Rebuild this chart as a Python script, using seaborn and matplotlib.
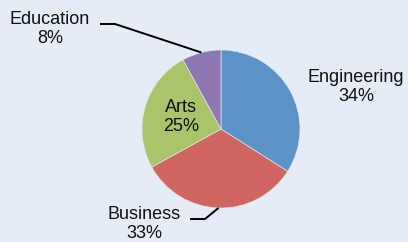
import numpy as np
import matplotlib
matplotlib.use("Agg")
import matplotlib.pyplot as plt
import seaborn as sns

categories = ["Engineering", "Business", "Arts", "Education"]
shares = [34, 33, 25, 8]

COLORS = ["#5B93C9", "#CF665F", "#A9C46B", "#8E78B1"]
BG = "#E4ECF6"

sns.set_style("white")
plt.rcParams["font.family"] = ["Liberation Sans", "DejaVu Sans"]
plt.rcParams["font.size"] = 13

W, H = 408, 242
cx, cy, r = 221, 129, 79

fig = plt.figure(figsize=(W / 100, H / 100), dpi=100, facecolor=BG)
ax = fig.add_axes([(cx - r) / W, (H - cy - r) / H, 2 * r / W, 2 * r / H])
ax.set_facecolor(BG)

wedges, _ = ax.pie(
    shares,
    colors=COLORS,
    startangle=90,
    counterclock=False,
    radius=1,
    wedgeprops=dict(edgecolor="#dfe6ee", linewidth=0.5),
)
ax.set_xlim(-1, 1)
ax.set_ylim(-1, 1)
ax.set_aspect("equal")
ax.axis("off")


def px(x, y):
    # figure pixel -> data coords of the pie axes
    return (x - cx) / r, (cy - y) / r


def edge(w):
    mid = np.deg2rad((w.theta1 + w.theta2) / 2)
    return np.cos(mid), np.sin(mid)


label_pos = {
    "Engineering": px(356, 87),
    "Business": px(144, 224),
    "Arts": px(181, 117),
    "Education": px(50, 29),
}

for name, val in zip(categories, shares):
    x, y = label_pos[name]
    ax.text(x, y, f"{name}\n{val}%", ha="center", va="center",
            multialignment="center", linespacing=1.15, color="#111111")

# leader lines
elbows = {"Education": [px(100, 24), px(115, 24)],
          "Business": [px(190, 219), px(205, 219)]}
for name, w in zip(categories, wedges):
    if name in elbows:
        pts = elbows[name] + [edge(w)]
        xs, ys = zip(*pts)
        ax.plot(xs, ys, color="black", lw=1.4, clip_on=False,
                solid_capstyle="butt")

fig.savefig("out.png", dpi=100, facecolor=BG)
